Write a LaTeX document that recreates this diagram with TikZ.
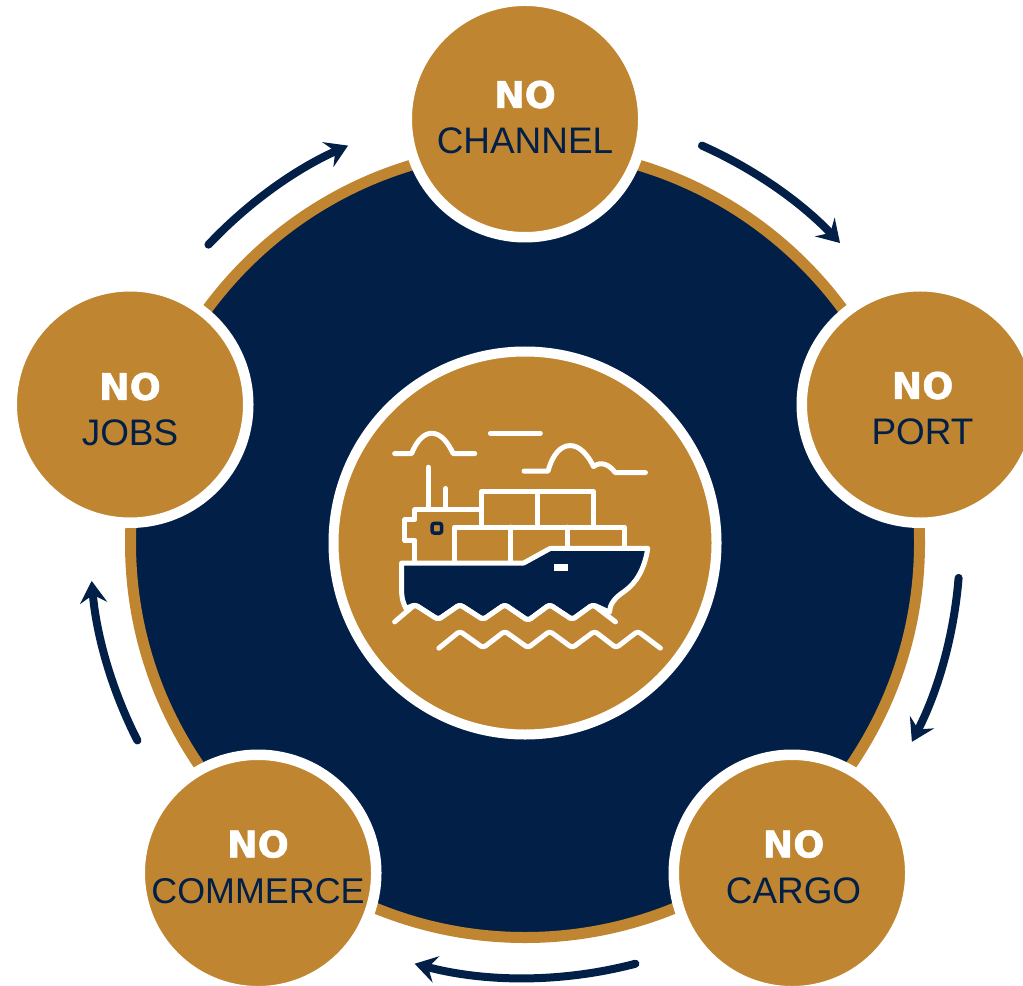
\documentclass[tikz,border=0pt]{standalone}
\usepackage{fontspec}
\setmainfont{Liberation Sans}
\newfontfamily\nofont[BoldFeatures={FakeBold=1.5}]{DejaVu Sans}
\usepackage{tikz}
\usetikzlibrary{shapes.geometric, arrows.meta}
\definecolor{navy}{HTML}{021F47}
\definecolor{gold}{HTML}{BF8530}
\tikzstyle{disc} = [circle, minimum size=7.89cm, line width=0.11cm, draw=gold, fill=navy]
\tikzstyle{hub} = [circle, minimum size=3.83cm, line width=0.1cm, draw=white, fill=gold]
\tikzstyle{spoke} = [circle, minimum size=2.365cm, line width=0.105cm, draw=white, fill=gold]
\tikzstyle{spoketext} = [align=center, inner sep=0pt, text=navy, font=\fontsize{10.5}{13.1}\selectfont]
\tikzstyle{cyclearrow} = [line width=0.08cm, line cap=round, draw=navy, -{Stealth[length=0.22cm, width=0.27cm, inset=0.08cm]}]
\tikzstyle{shipline} = [line width=0.05cm, draw=white, line cap=round, line join=round]
\newcommand{\nolabel}{{\color{white}\nofont\bfseries\fontsize{10.4}{13.1}\selectfont NO}}

\begin{document}
\begin{tikzpicture}[node distance=4.14cm]
		\useasboundingbox (0,0) rectangle (10.23,-9.85);
		\clip (0,0) rectangle (10.23,-9.85);
		\fill [white] (0,0) rectangle (10.23,-9.85);

		\node (disc) [disc] at (5.25,-5.43) {};
		\node (hub) [hub] at (disc) {};
		\node (channel) [spoke, above of=hub, yshift=0.1cm] {};
		\node (port) [spoke, right of=hub, xshift=-0.19cm, yshift=1.385cm] {};
		\node (cargo) [spoke, below of=hub, xshift=2.67cm, yshift=0.84cm] {};
		\node (commerce) [spoke, below of=hub, xshift=-2.67cm, yshift=0.84cm] {};
		\node (jobs) [spoke, left of=hub, xshift=0.19cm, yshift=1.385cm] {};

		\node (channeltext) [spoketext, yshift=0.015cm] at (channel) {\nolabel\\CHANNEL};
		\node (porttext) [spoketext, xshift=0.025cm, yshift=-0.04cm] at (port) {\nolabel\\PORT};
		\node (cargotext) [spoketext, xshift=0.015cm, yshift=0.06cm] at (cargo) {\nolabel\\CARGO};
		\node (commercetext) [spoketext, yshift=0.06cm] at (commerce) {\nolabel\\{\fontsize{10.2}{13.1}\selectfont COMMERCE}};
		\node (jobstext) [spoketext, yshift=-0.05cm] at (jobs) {\nolabel\\JOBS};

		\coordinate (arrow1) at ([shift={(66:4.35)}]disc.center);
		\coordinate (arrow2) at ([shift={(-4.6:4.35)}]disc.center);
		\coordinate (arrow3) at ([shift={(-75.3:4.35)}]disc.center);
		\coordinate (arrow4) at ([shift={(-153:4.35)}]disc.center);
		\coordinate (arrow5) at ([shift={(-223.3:4.35)}]disc.center);
		\draw [cyclearrow] (arrow1) arc [start angle=66, end angle=43.6, radius=4.35];
		\draw [cyclearrow] (arrow2) arc [start angle=-4.6, end angle=-27.2, radius=4.35];
		\draw [cyclearrow] (arrow3) arc [start angle=-75.3, end angle=-104.7, radius=4.35];
		\draw [cyclearrow] (arrow4) arc [start angle=-153, end angle=-175, radius=4.35];
		\draw [cyclearrow] (arrow5) arc [start angle=-223.3, end angle=-246, radius=4.35];

		% ship
		\begin{scope}[shift={(3.8cm,-4.1cm)}, x=0.003333cm, y=-0.003333cm]
			\draw [shipline] (44,131) -- (95,131) .. controls (112,88) and (135,70) .. (155,70) .. controls (185,70) and (205,100) .. (220,131) -- (285,131);
			\draw [shipline] (332,70) -- (482,70);
			\draw [shipline] (433,184) -- (505,184) .. controls (520,130) and (545,107) .. (572,107) .. controls (600,107) and (625,135) .. (642,170) .. controls (665,152) and (690,165) .. (707,188) -- (798,188);
			\draw [shipline] (145,172) -- (145,295);
			\draw [shipline] (198,236) -- (198,295);
			\draw [shipline] (105,460) -- (105,392) -- (75,392) -- (75,330) -- (105,330) -- (105,300) -- (305,300);
			\draw [shipline] (305,350) -- (305,246) -- (642,246) -- (642,350);
			\draw [shipline] (473,246) -- (473,350);
			\draw [shipline] (224,460) -- (224,352) -- (735,352) -- (735,415);
			\draw [shipline] (392,352) -- (392,460);
			\draw [shipline] (563,352) -- (563,415);
			\draw [line width=0.035cm, draw=navy, rounded corners=0.02cm] (157,341) rectangle (185,370);
			\draw [shipline, fill=navy] (65,460) -- (432,460) -- (512,416) -- (805,416) .. controls (795,480) and (770,520) .. (735,545) .. controls (705,565) and (690,585) .. (690,608) [rounded corners=0.03cm] -- (640,585) -- (578,630) -- (510,585) -- (445,633) -- (375,585) -- (310,630) -- (240,585) -- (175,630) -- (105,585) [sharp corners] -- (78,597) .. controls (65,570) and (65,555) .. (65,540) -- cycle;
			\fill [white] (524,462) rectangle (564,485);
			\draw [shipline, rounded corners=0.03cm] (44,637) -- (105,585) -- (175,630) -- (240,585) -- (310,630) -- (375,585) -- (445,633) -- (510,585) -- (578,630) -- (640,585) -- (708,637);
			\draw [shipline, rounded corners=0.03cm] (177,716) -- (240,665) -- (310,715) -- (375,665) -- (445,715) -- (510,665) -- (578,715) -- (645,665) -- (710,715) -- (775,665) -- (843,716);
		\end{scope}
\end{tikzpicture}
\end{document}
